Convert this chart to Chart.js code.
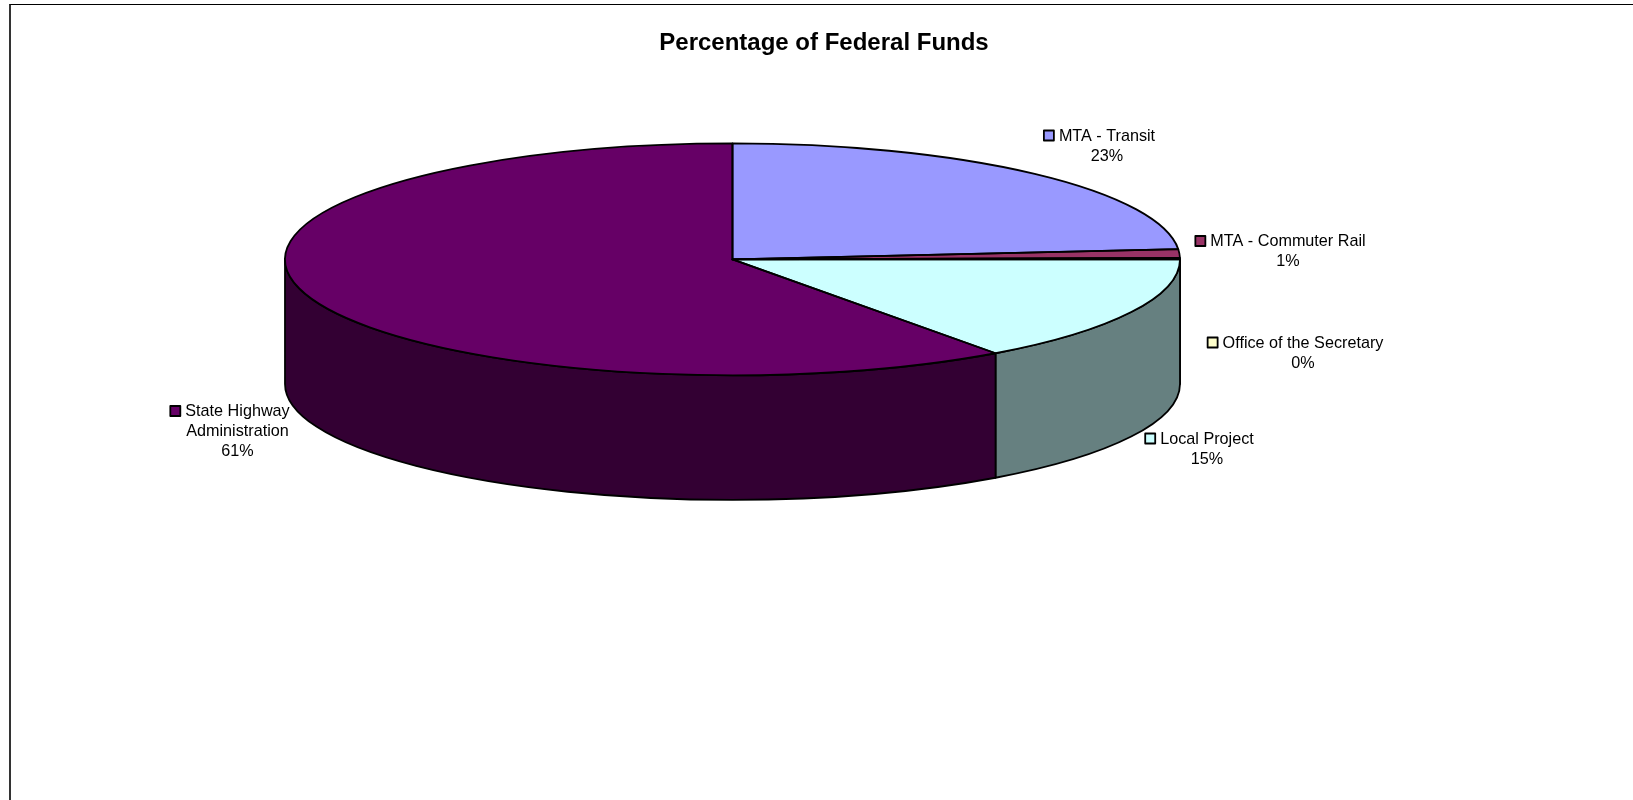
<!DOCTYPE html>
<html>
<head>
<meta charset="utf-8">
<script src="https://cdn.jsdelivr.net/npm/chart.js@4/dist/chart.umd.min.js"></script>
<style>
html,body{margin:0;padding:0;background:#fff;overflow:hidden;width:1633px;height:800px}
#frame{position:absolute;left:9px;top:4px;width:1624px;height:796px;border-left:2px solid #333;border-top:1.5px solid #000;overflow:hidden}
canvas{position:absolute;left:-1px;top:-1px}
</style>
</head>
<body>
<div id="frame"><canvas id="c" width="1628" height="800" style="width:1628px;height:800px"></canvas></div>
<script>
const chartTitle = 'Percentage of Federal Funds';
const categories = ['MTA - Transit','MTA - Commuter Rail','Office of the Secretary','Local Project','State Highway Administration'];
const shares = [23.6, 1.2, 0.2, 15.0, 60.0];
const shareLabels = ['23%','1%','0%','15%','61%'];
const topColors = ['#9999FF','#993366','#FFFFCC','#CCFFFF','#660066'];
const sideColors = ['#4D4D80','#4D1A33','#808066','#668080','#330033'];
const labelAnchors = [[1097,132.5],[1278,238],[1293,339.5],[1197,435.5],[227.5,408]];

const FONT = '"Liberation Sans", Arial, sans-serif';
const TILT = 116 / 447.5;
const DEPTH = 124.5;

function wrap(ctx, text, maxW){
  const out = []; let line = '';
  for (const w of text.split(' ')) {
    const t = line ? line + ' ' + w : w;
    if (ctx.measureText(t).width > maxW && line) { out.push(line); line = w; } else line = t;
  }
  out.push(line);
  return out;
}

const pie3d = {
  id: 'pie3d',
  afterLayout(chart){
    chart.titleBlock.left = 0;
    chart.titleBlock.right = chart.width;
  },
  beforeDatasetsDraw(chart){
    const ctx = chart.ctx, arcs = chart.getDatasetMeta(0).data;
    const {x:cx, y:cy, outerRadius:r} = arcs[0], ry = r * TILT;
    arcs.forEach((arc, i) => {
      const a = Math.max(arc.startAngle, 0), b = Math.min(arc.endAngle, Math.PI);
      if (b <= a) return;
      ctx.beginPath();
      ctx.ellipse(cx, cy, r, ry, 0, a, b);
      ctx.ellipse(cx, cy + DEPTH, r, ry, 0, b, a, true);
      ctx.closePath();
      ctx.fillStyle = sideColors[i];
      ctx.fill();
      ctx.lineWidth = 1.8; ctx.strokeStyle = '#000'; ctx.lineJoin = 'round';
      ctx.stroke();
    });
    ctx.save();
    ctx.translate(cx, cy); ctx.scale(1, TILT); ctx.translate(-cx, -cy);
  },
  afterDatasetsDraw(chart){
    const ctx = chart.ctx, arcs = chart.getDatasetMeta(0).data;
    ctx.restore();
    const {x:cx, y:cy, outerRadius:r} = arcs[0], ry = r * TILT;
    arcs.forEach(arc => {
      ctx.beginPath();
      ctx.moveTo(cx, cy);
      ctx.ellipse(cx, cy, r, ry, 0, arc.startAngle, arc.endAngle);
      ctx.closePath();
      ctx.lineWidth = 1.8; ctx.strokeStyle = '#000'; ctx.lineJoin = 'round';
      ctx.stroke();
    });
  },
  afterDraw(chart){
    const ctx = chart.ctx;
    ctx.save();
    ctx.font = '16.2px ' + FONT;
    ctx.textBaseline = 'middle'; ctx.textAlign = 'center';
    categories.forEach((name, i) => {
      const [ax, ay] = labelAnchors[i];
      const lines = wrap(ctx, name, 175);
      lines.push(shareLabels[i]);
      ctx.fillStyle = '#000';
      lines.forEach((l, k) => ctx.fillText(l, ax, ay + k * 20));
      const w = ctx.measureText(lines[0]).width;
      ctx.fillStyle = topColors[i]; ctx.strokeStyle = '#000'; ctx.lineWidth = 1.8;
      ctx.beginPath(); ctx.rect(ax - w/2 - 15, ay - 6, 10, 10); ctx.fill(); ctx.stroke();
    });
    ctx.restore();
  }
};

new Chart(document.getElementById('c'), {
  type: 'pie',
  data: { labels: categories, datasets: [{ data: shares, backgroundColor: topColors, borderWidth: 0, clip: false }] },
  plugins: [pie3d],
  options: {
    responsive: false, animation: false, events: [],
    radius: 447.5,
    layout: { padding: { left: 0, top: 0, right: 183, bottom: 343 } },
    plugins: {
      legend: { display: false }, tooltip: { enabled: false },
      title: { display: true, text: chartTitle, color: '#000', align: 'center',
        font: { family: FONT, size: 24, weight: 'bold' }, padding: { top: 25, bottom: 0 } }
    }
  }
});
</script>
</body>
</html>
